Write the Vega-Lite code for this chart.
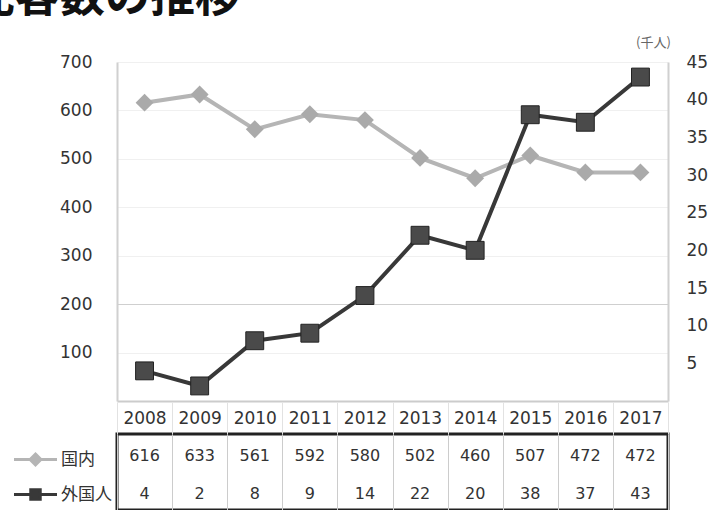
{
  "$schema": "https://vega.github.io/schema/vega-lite/v6.json",
  "autosize": {"type": "none"},
  "padding": {"left": 117, "top": 62, "right": 606, "bottom": 448},
  "background": "white",
  "title": {
    "text": "観光客数の推移",
    "anchor": "start",
    "frame": "group",
    "font": "Noto Sans CJK JP",
    "fontSize": 45,
    "fontWeight": "bold",
    "color": "#111111",
    "baseline": "bottom",
    "offset": 0,
    "dx": -192,
    "dy": 30
  },
  "datasets": {
    "d": [
      {"year": "2008", "series": "国内", "value": 616},
      {"year": "2009", "series": "国内", "value": 633},
      {"year": "2010", "series": "国内", "value": 561},
      {"year": "2011", "series": "国内", "value": 592},
      {"year": "2012", "series": "国内", "value": 580},
      {"year": "2013", "series": "国内", "value": 502},
      {"year": "2014", "series": "国内", "value": 460},
      {"year": "2015", "series": "国内", "value": 507},
      {"year": "2016", "series": "国内", "value": 472},
      {"year": "2017", "series": "国内", "value": 472},
      {"year": "2008", "series": "外国人", "value": 4},
      {"year": "2009", "series": "外国人", "value": 2},
      {"year": "2010", "series": "外国人", "value": 8},
      {"year": "2011", "series": "外国人", "value": 9},
      {"year": "2012", "series": "外国人", "value": 14},
      {"year": "2013", "series": "外国人", "value": 22},
      {"year": "2014", "series": "外国人", "value": 20},
      {"year": "2015", "series": "外国人", "value": 38},
      {"year": "2016", "series": "外国人", "value": 37},
      {"year": "2017", "series": "外国人", "value": 43}
    ]
  },
  "data": {"name": "d"},
  "bounds": "flush",
  "spacing": 33,
  "vconcat": [
    {
      "width": 551,
      "height": 339,
      "view": {"stroke": null},
      "encoding": {
        "x": {
          "field": "year", "type": "ordinal",
          "scale": {"type": "band", "paddingInner": 0, "paddingOuter": 0},
          "axis": {"labels": false, "ticks": false, "title": null, "domainColor": "#cccccc", "domainWidth": 2}
        }
      },
      "layer": [
        {
          "transform": [{"filter": "datum.series === '国内'"}],
          "encoding": {
            "y": {
              "field": "value", "type": "quantitative",
              "scale": {"domain": [0, 700]},
              "axis": {
                "orient": "left", "title": null, "values": [100, 200, 300, 400, 500, 600, 700],
                "ticks": false, "labelPadding": 25, "domainColor": "#d0d0d0", "domainWidth": 2,
                "grid": true,
                "gridColor": {"condition": {"test": "datum.value === 200", "value": "#cfcfcf"}, "value": "#f0f0f0"},
                "labelFont": "DejaVu Sans", "labelFontSize": 17, "labelColor": "#333333"
              }
            }
          },
          "layer": [
            {
              "mark": {"type": "line", "strokeWidth": 4},
              "encoding": {
                "color": {
                  "field": "series", "type": "nominal",
                  "scale": {"domain": ["国内", "外国人"], "range": ["#b5b5b5", "#383838"]},
                  "legend": {
                    "orient": "none", "legendX": -105, "legendY": 380, "title": null,
                    "direction": "vertical", "clipHeight": 35, "rowPadding": 0, "padding": 0,
                    "symbolSize": 1850, "symbolStrokeWidth": 3, "labelOffset": 2,
                    "labelFont": "Noto Sans CJK JP", "labelFontSize": 17, "labelColor": "#333333",
                    "encode": {
                      "symbols": {
                        "update": {
                          "shape": {"signal": "datum.value === '国内' ? 'M-1,0H1M0,-0.25L0.25,0L0,0.25L-0.25,0Z' : 'M-1,0H1M-0.22,-0.22H0.22V0.22H-0.22Z'"},
                          "fill": {"signal": "datum.value === '国内' ? '#b5b5b5' : '#383838'"},
                          "stroke": {"signal": "datum.value === '国内' ? '#b5b5b5' : '#383838'"},
                          "strokeWidth": {"value": 3},
                          "opacity": {"value": 1}
                        }
                      }
                    }
                  }
                }
              }
            },
            {"mark": {"type": "point", "shape": "diamond", "size": 320, "filled": true, "color": "#aaaaaa", "opacity": 1}}
          ]
        },
        {
          "transform": [{"filter": "datum.series === '外国人'"}],
          "encoding": {
            "y": {
              "field": "value", "type": "quantitative",
              "scale": {"domain": [0, 45]},
              "axis": {
                "orient": "right", "values": [5, 10, 15, 20, 25, 30, 35, 40, 45],
                "ticks": false, "labelPadding": 18, "domainColor": "#d0d0d0", "domainWidth": 2,
                "grid": false,
                "labelFont": "DejaVu Sans", "labelFontSize": 17, "labelColor": "#333333",
                "title": "(千人)", "titleAngle": 0, "titleX": -15, "titleY": -20,
                "titleAlign": "center", "titleBaseline": "middle",
                "titleFont": "Noto Sans CJK JP", "titleFontSize": 13, "titleFontWeight": "normal", "titleColor": "#666666"
              }
            }
          },
          "layer": [
            {
              "mark": {"type": "line", "strokeWidth": 4},
              "encoding": {
                "color": {
                  "field": "series", "type": "nominal",
                  "scale": {"domain": ["国内", "外国人"], "range": ["#b5b5b5", "#383838"]}
                }
              }
            },
            {"mark": {"type": "point", "shape": "square", "size": 320, "filled": true, "color": "#4a4a4a", "stroke": "#222222", "strokeWidth": 1, "opacity": 1}}
          ]
        }
      ],
      "resolve": {"scale": {"y": "independent"}}
    },
    {
      "width": 551,
      "height": 76,
      "view": {"stroke": "#222222", "strokeWidth": 3},
      "mark": {"type": "text", "font": "DejaVu Sans", "fontSize": 16, "color": "#333333", "dy": 3},
      "encoding": {
        "x": {
          "field": "year", "type": "ordinal",
          "scale": {"type": "band", "paddingInner": 0, "paddingOuter": 0},
          "axis": {
            "orient": "top", "title": null, "tickBand": "extent", "labelAngle": 0,
            "ticks": true, "tickSize": 32, "tickColor": "#e2e2e2",
            "labelPadding": -16, "labelBaseline": "middle", "labelAlign": "center",
            "labelFont": "DejaVu Sans", "labelFontSize": 17, "labelColor": "#333333",
            "domain": false, "grid": true, "gridColor": "#cccccc"
          }
        },
        "y": {
          "field": "series", "type": "nominal",
          "scale": {"domain": ["国内", "外国人"], "paddingInner": 0, "paddingOuter": 0},
          "axis": null
        },
        "text": {"field": "value", "type": "quantitative"}
      }
    }
  ]
}
